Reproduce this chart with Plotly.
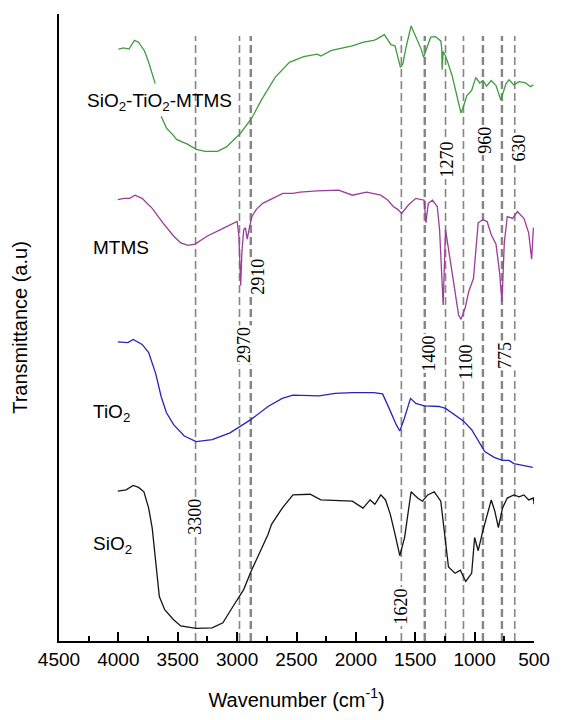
import plotly.graph_objects as go

# ---- data (wavenumber cm^-1, transmittance a.u.) ----
sio2_tio2_mtms_w = [4000, 3955, 3910, 3865, 3830, 3780, 3745, 3690, None, 3640, 3595, 3535, 3510, 3415, 3345, 3270, 3165, 3090, 2975,
                    2880, 2795, 2680, 2560, 2440, 2325, 2295, 2205, 2030, 1935, 1850, 1825, 1760, 1705, 1670, 1625,
                    1605, 1575, 1535, 1495, 1450, 1430, 1395, 1370, 1330, 1285, 1277, 1274, 1265, 1250, 1230, 1190,
                    1150, 1115, 1095, 1065, 1025, 990, 957, 930, 900, 860, 820, 780, 735, 710, 670, 625, 570, 530, 505]
sio2_tio2_mtms_t = [94.4, 94.6, 94.4, 95.8, 95.5, 94.1, 92.3, 88.9, None, 83.7, 81.8, 80.6, 80.0, 79.2, 78.4, 78.1, 78.1, 78.8, 80.9,
                    83.3, 86.3, 89.9, 92.3, 93.2, 93.6, 93.3, 94.2, 94.9, 95.5, 95.8, 96.0, 96.7, 95.1, 94.9, 91.5,
                    92.0, 94.9, 98.1, 96.4, 94.4, 93.1, 94.9, 96.3, 96.4, 95.7, 94.5, 91.1, 94.0, 93.5, 92.5, 90.2,
                    87.0, 84.2, 85.2, 87.0, 87.8, 89.9, 89.0, 89.4, 88.5, 89.4, 88.6, 86.3, 88.9, 89.5, 88.7, 89.2, 89.0, 88.4, 88.7]

mtms_w = [4005, 3950, 3905, 3860, 3800, 3715, 3625, 3535, 3475, 3415, 3355, 3285, 3250, 3140, 3030, 3000, 2985, 2970,
          2960, 2945, 2930, 2915, 2895, 2875, 2840, 2785, 2700, 2615, 2530, 2470, 2325, 2145, 2030, 1910, 1790, 1730,
          1685, 1645, 1615, 1560, 1495, 1425, 1410, 1390, 1355, 1315, 1295, 1280, 1265, 1245, 1220, 1175, 1135, 1115,
          1080, 1050, 1010, 970, 930, 895, 860, 820, 790, 770, 750, 725, 680, 640, 585, 545, 520, 505]
mtms_t = [70.4, 70.6, 70.6, 71.1, 70.6, 69.0, 66.7, 64.6, 63.5, 63.1, 63.3, 64.1, 64.6, 65.6, 66.7, 66.9, 64.6, 56.7,
          62.0, 65.6, 65.9, 64.1, 66.1, 67.7, 68.8, 69.8, 70.6, 71.4, 71.4, 71.6, 71.8, 71.9, 71.1, 71.6, 71.1, 70.3,
          69.3, 68.8, 68.2, 69.5, 70.6, 70.3, 66.7, 69.8, 70.3, 69.3, 65.6, 59.4, 53.6, 65.6, 62.5, 57.3, 52.0, 51.3,
          53.1, 55.7, 57.8, 66.7, 67.2, 66.9, 64.8, 63.3, 58.8, 54.1, 63.5, 67.7, 67.4, 68.5, 67.4, 65.1, 60.9, 65.9]

tio2_w = [4005, 3920, 3875, 3800, 3745, 3685, 3640, 3595, 3535, 3445, 3345, 3210, 3060, 2885, 2740, 2620, 2530, 2385,
          2310, 2175, 2030, 1850, 1775, 1720, 1660, 1630, 1590, 1540, 1495, 1425, 1300, 1245, 1165, 1095, 1025, 970,
          915, 835, 765, 710, 670, 615, 560, 510]
tio2_t = [47.7, 47.6, 48.1, 47.3, 46.0, 42.6, 39.0, 36.4, 34.5, 32.7, 31.8, 32.1, 33.2, 35.3, 37.4, 38.7, 39.2, 39.2,
          39.1, 39.5, 39.6, 39.6, 39.4, 37.1, 34.5, 33.5, 35.6, 38.7, 37.9, 37.5, 37.4, 37.1, 36.1, 35.1, 33.7, 31.9,
          30.2, 29.3, 28.8, 28.8, 28.3, 28.1, 27.9, 27.7]

sio2_w = [4005, 3935, 3875, 3830, 3785, 3745, 3715, 3685, 3655, 3610, 3535, 3475, 3345, 3210, 3120, 3035, 2945, 2885,
          2795, 2740, 2710, 2620, 2530, 2385, 2295, 2030, 1940, 1880, 1840, 1790, 1750, 1710, 1670, 1630, 1590, 1535,
          1480, 1440, 1395, 1340, 1285, 1245, 1220, 1165, 1120, 1110, 1075, 1025, 1000, 970, 930, 860, 830, 800, 765,
          725, 670, 625, 585, 545, 505, 500]
sio2_t = [23.9, 24.1, 24.8, 24.5, 23.8, 21.2, 18.0, 12.3, 7.1, 5.0, 3.4, 2.4, 2.0, 2.1, 2.9, 5.5, 8.2, 11.0,
          14.9, 17.0, 18.6, 21.2, 23.3, 23.4, 22.5, 22.3, 21.2, 22.5, 21.8, 23.3, 22.5, 20.2, 17.0, 13.6, 16.5, 23.8,
          22.8, 22.3, 23.3, 23.8, 22.3, 16.0, 11.8, 10.8, 11.3, 10.9, 9.5, 10.8, 16.5, 14.4, 17.6, 22.5, 20.7, 18.1, 21.2,
          22.8, 23.3, 23.0, 23.3, 22.5, 22.8, 21.8]

line_pos = [3350, 2980, 2885, 1617, 1420, 1245, 1094, 930, 770, 662]
line_bold = [False, False, True, False, True, False, False, True, True, False]
line_top = 96.5

peak_labels = ["3300", "2970", "2910", "1620", "1400", "1270", "1100", "960", "775", "630"]
peak_label_x = [3351, 2943, 2823, 1628, 1388, 1232, 1075, 916, 745, 627]
peak_label_y = [19.9, 47.2, 58.1, 5.5, 45.8, 76.8, 44.5, 79.9, 45.6, 78.7]

series_names = ["SiO<sub>2</sub>-TiO<sub>2</sub>-MTMS", "MTMS", "TiO<sub>2</sub>", "SiO<sub>2</sub>"]
series_label_x = [4283, 4234, 4234, 4234]
series_label_y = [86.0, 62.8, 36.4, 15.3]

fig = go.Figure()

for xw, bold in zip(line_pos, line_bold):
    fig.add_trace(go.Scatter(x=[xw, xw], y=[0, line_top], mode="lines",
                             line=dict(color="#858585", width=2.4 if bold else 1.6, dash="8px,4px"),
                             hoverinfo="skip", showlegend=False))

curves = [(sio2_tio2_mtms_w, sio2_tio2_mtms_t, "#3f9b3f"),
          (mtms_w, mtms_t, "#9b3d98"),
          (tio2_w, tio2_t, "#2525b8"),
          (sio2_w, sio2_t, "#151515")]
for xs, ys, c in curves:
    fig.add_trace(go.Scatter(x=xs, y=ys, mode="lines", line=dict(color=c, width=1.3),
                             connectgaps=False, showlegend=False))

for txt, xw, yv in zip(peak_labels, peak_label_x, peak_label_y):
    fig.add_annotation(x=xw, y=yv, xref="x", yref="y", text=txt, textangle=-90, showarrow=False,
                       font=dict(family="Liberation Serif", size=18, color="black"),
                       bgcolor="white", borderpad=1, xanchor="center", yanchor="middle")

for txt, xw, yv in zip(series_names, series_label_x, series_label_y):
    fig.add_annotation(x=xw, y=yv, xref="x", yref="y", text=txt, showarrow=False,
                       font=dict(family="Liberation Sans", size=19, color="black"),
                       xanchor="left", yanchor="middle")

fig.update_layout(
    width=562, height=720,
    margin=dict(l=59, r=18, t=14, b=68),
    paper_bgcolor="white", plot_bgcolor="white",
    font=dict(family="Liberation Sans", color="black"),
    showlegend=False,
)
fig.update_xaxes(range=[4500, 500], tickmode="array", tickvals=[4500, 4000, 3500, 3000, 2500, 2000, 1500, 1000, 500],
                 ticks="inside", ticklen=9, tickwidth=1.5, tickcolor="black",
                 minor=dict(tickvals=[4250, 3750, 3250, 2750, 2250, 1750, 1250, 750], ticks="inside", ticklen=5, tickwidth=1.5, tickcolor="black"),
                 showline=True, linecolor="black", linewidth=1.6, showgrid=False, zeroline=False,
                 tickfont=dict(size=19), title=dict(text="Wavenumber (cm<sup>-1</sup>)", font=dict(size=20), standoff=24))
fig.update_yaxes(range=[0, 100], showline=True, linecolor="black", linewidth=1.6, showgrid=False, zeroline=False,
                 showticklabels=False, ticks="",
                 title=dict(text="Transmittance (a.u)", font=dict(size=20), standoff=24))

fig.write_html("out.html")
